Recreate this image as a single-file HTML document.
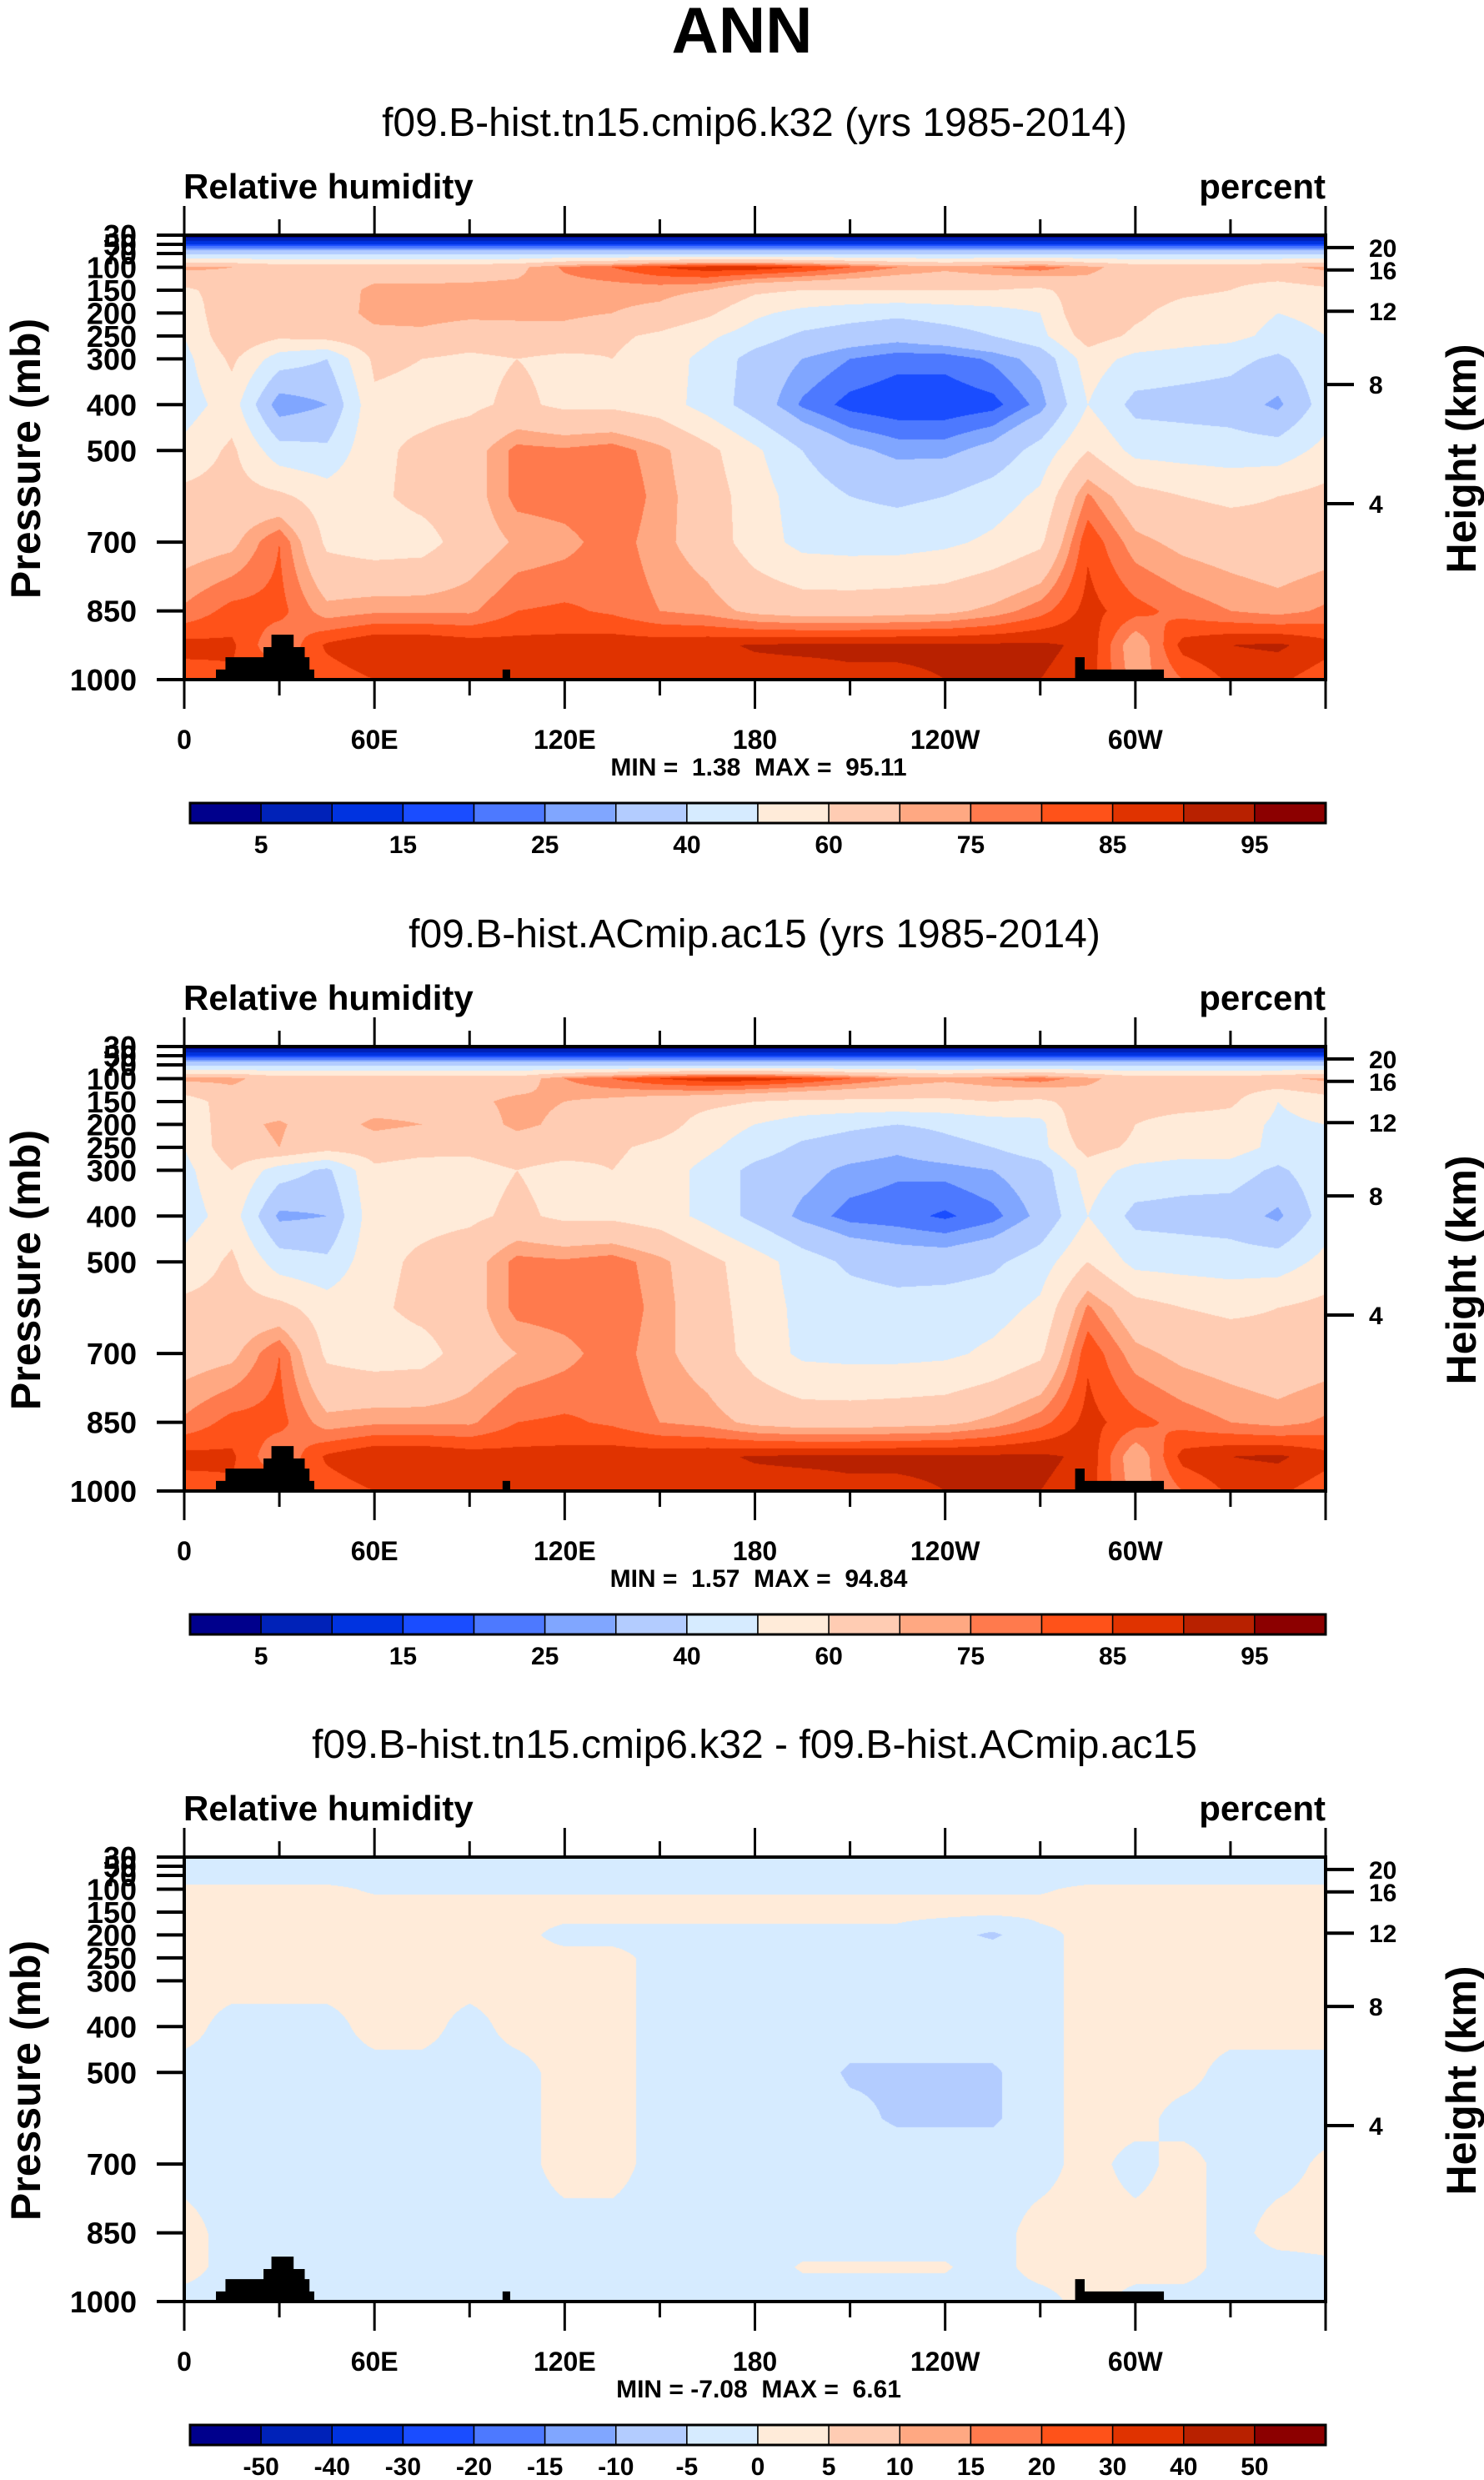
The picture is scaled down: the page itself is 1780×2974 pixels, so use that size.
<!DOCTYPE html>
<html><head><meta charset="utf-8">
<style>
html,body{margin:0;padding:0;background:#fff;}
#root{position:relative;width:1780px;height:2974px;overflow:hidden;font-family:"Liberation Sans",sans-serif;}
canvas{position:absolute;}
svg{position:absolute;left:0;top:0;}
</style></head>
<body>
<div id="root">
<canvas id="c0" width="1369" height="533" style="left:221px;top:282px"></canvas>
<canvas id="c1" width="1369" height="533" style="left:221px;top:1255px"></canvas>
<canvas id="c2" width="1369" height="533" style="left:221px;top:2227px"></canvas>
<svg id="svg" width="1780" height="2974" xmlns="http://www.w3.org/2000/svg">
<text x="890" y="63" text-anchor="middle" font-size="78" font-weight="bold" font-family="Liberation Sans, sans-serif">ANN</text>
</svg>
</div>
<script>
// ---------- data ----------
const lons = [0,15,30,45,60,75,90,105,120,135,150,165,180,195,210,225,240,255,270,285,300,315,330,345,360];
const levels = [30,50,70,100,150,200,250,300,400,500,600,700,850,925,1000];
const rh1 = [
[2,2,2,2,2,2,2,2,2,2,2,2,2,2,2,2,2,2,2,2,2,2,2,2,2],
[15,15,15,15,15,15,15,15,15,15,15,15,15,15,15,15,15,15,15,15,15,15,15,15,15],
[38,38,38,38,38,38,38,38,38,38,38,38,38,38,38,38,38,38,38,38,38,38,38,38,38],
[72,70,66,65,65,65,66,68,76,80,85,88,88,85,80,75,72,75,78,72,66,65,65,68,72],
[58,65,65,65,72,72,72,72,72,72,72,70,62,60,60,60,60,60,58,66,65,62,60,55,58],
[52,70,66,66,72,73,72,72,72,70,68,62,52,47,44,42,44,46,50,70,62,56,55,50,52],
[50,68,62,64,68,68,65,66,66,62,58,52,45,38,35,33,36,40,47,65,58,55,53,47,50],
[47,62,45,40,62,60,58,60,58,60,55,47,36,30,25,22,22,26,33,55,47,45,43,38,47],
[45,55,25,30,58,57,58,62,58,58,55,46,35,24,18,16,16,18,27,50,37,36,35,28,45],
[53,62,44,42,58,62,66,77,76,78,72,63,52,40,32,28,28,33,44,60,47,46,45,45,53],
[63,64,62,55,58,63,66,77,78,80,73,65,55,45,40,38,40,45,52,76,64,60,58,60,63],
[66,68,80,58,55,56,65,71,73,78,72,66,55,47,46,46,48,52,58,84,72,68,66,64,66],
[76,82,82,72,74,74,74,80,81,79,75,73,68,66,66,67,68,72,78,87,82,78,75,73,76],
[87,86,75,86,90,90,88,87,87,88,88,89,90.5,91,91,91,91,91,91,89,70,87,90,91,87],
[82,84,84,82,85,86,86,85,86,86,87,87,88,88,89,89,90,90,90,88,72,80,86,86,82]
];
const rh2 = [
[2,2,2,2,2,2,2,2,2,2,2,2,2,2,2,2,2,2,2,2,2,2,2,2,2],
[15,15,15,15,15,15,15,15,15,15,15,15,15,15,15,15,15,15,15,15,15,15,15,15,15],
[38,38,38,38,38,38,38,38,38,38,38,38,38,38,38,38,38,38,38,38,38,38,38,38,38],
[72,72,65,65,65,65,65,65,75,80,85,88,88,85,80,75,72,75,78,72,65,65,65,68,72],
[55,65,65,65,65,66,68,72,70,68,65,63,60,58,58,58,58,60,58,65,65,65,62,50,55],
[50,68,71,65,72,70,65,72,68,70,65,55,50,45,42,40,42,45,47,70,60,55,55,48,50],
[50,67,70,64,65,63,62,65,64,62,57,52,45,38,35,32,37,40,47,64,58,55,55,47,50],
[47,60,45,38,58,56,57,60,57,60,55,47,37,33,28,26,27,30,35,55,47,45,45,38,47],
[45,55,28,30,57,57,58,62,58,58,55,47,37,28,23,22,19,23,32,50,37,36,35,28,45],
[53,62,45,42,57,62,66,77,76,78,72,63,55,45,38,35,35,38,45,60,47,46,45,45,53],
[63,64,63,55,58,63,66,77,78,79,73,64,56,47,45,44,45,46,52,76,64,60,58,60,63],
[66,68,80,58,55,56,65,70,73,78,72,66,56,48,47,47,48,52,58,84,72,68,66,64,66],
[76,82,82,72,74,74,74,80,81,79,75,73,68,66,66,67,68,72,78,87,82,78,75,73,76],
[87,86,75,86,90,90,88,87,87,88,88,89,90.5,91,91,91,91,91,91,89,70,87,90,91,87],
[82,84,84,82,85,86,86,85,86,86,87,87,88,88,89,89,90,90,90,88,72,80,86,86,82]
];
const rhDiff = [
[-1,-1,-1,-1,-1,-1,-1,-1,-1,-1,-1,-1,-1,-1,-1,-1,-1,-1,-1,-1,-1,-1,-1,-1,-1],
[-1,-1,-1,-1,-1,-1,-1,-1,-1,-1,-1,-1,-1,-1,-1,-1,-1,-1,-1,-1,-1,-1,-1,-1,-1],
[-1,-1,-1,-1,-1,-1,-1,-1,-1,-1,-1,-1,-1,-1,-1,-1,-1,-1,-1,-1,-1,-1,-1,-1,-1],
[0.5,0.5,0.5,0.5,-0.3,-0.3,-0.3,-0.3,-0.3,-0.3,-0.3,-0.3,-0.3,-0.3,-0.3,-0.3,-0.3,-0.3,-0.3,0.5,0.5,0.5,0.5,0.5,0.5],
[1,1,1,1,1,1,1,1,1,1,1,1,1,1,1,1,1,1,1,1,1,1,1,1,1],
[1,1,1,1,1,1,1,1,-1,-1,-1,-1,-1,-1,-1,-1,-3,-6,-1,1,1,1,1,1,1],
[1,1,1,1,1,1,1,1,1,1,-1,-1,-1,-1,-1,-1,-1,-1,-1,1,1,1,1,1,1],
[1,1,1,1,1,1,1,1,1,1,-1,-1,-1,-1,-1,-1,-1,-1,-1,1,1,1,1,1,1],
[1,-1,-1,-1,1,1,-1,1,1,1,-1,-1,-1,-1,-1,-1,-1,-1,-1,1,1,1,1,1,1],
[-1,-1,-1,-1,-1,-1,-1,-1,1,1,-1,-1,-1,-1,-6,-6,-6,-6,-1,1,1,1,-1,-1,-1],
[-1,-1,-1,-1,-1,-1,-1,-1,1,1,-1,-1,-1,-1,-3,-6,-6,-6,-1,1,1,-1,-1,-1,-1],
[-1,-1,-1,-1,-1,-1,-1,-1,1,1,-1,-1,-1,-1,-1,-1,-1,-1,-1,1,-1,1,-1,-1,0.5],
[1,-1,-1,-1,-1,-1,-1,-1,-1,-1,-1,-1,-1,-1,-1,-1,-1,-1,1,1,1,1,-1,1,1],
[1,-1,-1,-1,-1,-1,-1,-1,-1,-1,-1,-1,-1,0.2,0.2,0.2,0.2,-1,1,1,1,1,-1,-1,-0.5],
[-1,-1,-1,-1,-1,-1,-1,-1,-1,-1,-1,-1,-1,-1,-1,-1,-1,-1,-1,1,-1,-1,-1,-1,-1]
];
const rhLevels = [5,10,15,20,25,30,40,50,60,70,75,80,85,90,95];
const rhLabels = ["5","15","25","40","60","75","85","95"];
const diffLevels = [-50,-40,-30,-20,-15,-10,-5,0,5,10,15,20,30,40,50];
const diffLabels = ["-50","-40","-30","-20","-15","-10","-5","0","5","10","15","20","30","40","50"];
const palette = ['#00008C','#0022B8','#0033E0','#1A4DFF','#4D79FF','#80A6FF','#B3CCFF','#D6EBFF','#FFEBD9','#FFCCB3','#FFA882','#FF7A4D','#FF5219','#E03300','#B82100','#8C0000'];
const topoLon = [10,13,25,27.5,34.5,38,39.5,41, 100.4,102.8, 281,284,309];
const topoP =   [978,951,929,902,929,951,978,1000, 978,1000, 951,978,1000];
const pTicks = [30,50,70,100,150,200,250,300,400,500,700,850,1000];
const xTickLon = [0,60,120,180,240,300];
const xTickLab = ["0","60E","120E","180","120W","60W"];
const hLabels = ["20","16","12","8","4"];
const hPress = [57,106,196,356,616];
const titles = ["f09.B-hist.tn15.cmip6.k32 (yrs 1985-2014)","f09.B-hist.ACmip.ac15 (yrs 1985-2014)","f09.B-hist.tn15.cmip6.k32 - f09.B-hist.ACmip.ac15"];
const minmax = ["MIN =  1.38  MAX =  95.11","MIN =  1.57  MAX =  94.84","MIN = -7.08  MAX =  6.61"];

// ---------- layout ----------
const L=221, R=1590, W=R-L, H=533;
const offs=[0,973,1945];
function xS(lon){return L+lon/360*W;}
function yS(p,k){return 282+offs[k]+(p-30)/970*H;}

function hex(c){return [parseInt(c.substr(1,2),16),parseInt(c.substr(3,2),16),parseInt(c.substr(5,2),16)];}
const pal=palette.map(hex);

function drawField(id,grid,lv){
  const cv=document.getElementById(id),ctx=cv.getContext('2d');
  const img=ctx.createImageData(W,H),d=img.data;
  for(let y=0;y<H;y++){
    const p=30+(y+0.5)/H*970;
    let k=0;while(k<levels.length-2&&levels[k+1]<p)k++;
    const fy=Math.min(1,Math.max(0,(p-levels[k])/(levels[k+1]-levels[k])));
    const r0=grid[k],r1=grid[k+1];
    for(let x=0;x<W;x++){
      const lon=(x+0.5)/W*360;
      let j=Math.min(lons.length-2,Math.floor(lon/15));
      const fx=(lon-lons[j])/15;
      const a=r0[j]*(1-fx)+r0[j+1]*fx,b=r1[j]*(1-fx)+r1[j+1]*fx;
      const v=a*(1-fy)+b*fy;
      let c=0;while(c<lv.length&&v>=lv[c])c++;
      const col=pal[c],i=(y*W+x)*4;
      d[i]=col[0];d[i+1]=col[1];d[i+2]=col[2];d[i+3]=255;
    }
  }
  ctx.putImageData(img,0,0);
}
drawField('c0',rh1,rhLevels);
drawField('c1',rh2,rhLevels);
drawField('c2',rhDiff,diffLevels);

const svg=document.getElementById('svg');
const NS='http://www.w3.org/2000/svg';
function el(tag,attrs,txt){const e=document.createElementNS(NS,tag);for(const k in attrs)e.setAttribute(k,attrs[k]);if(txt!==undefined)e.textContent=txt;svg.appendChild(e);return e;}
const FF='Liberation Sans, sans-serif';

for(let k=0;k<3;k++){
  const top=282+offs[k],bot=top+H,o=offs[k];
  let t=el('text',{x:905,y:163+o,'text-anchor':'middle','font-size':48,'font-family':FF},titles[k]);
  
  
  t=el('text',{x:220,y:238+o,'font-size':42,'font-weight':'bold','font-family':FF},'Relative humidity');
  
  
  t=el('text',{x:1590,y:238+o,'text-anchor':'end','font-size':42,'font-weight':'bold','font-family':FF},'percent');
  
  
  // topography (step polygons)
  const segs=[[0,8],[8,10],[10,13]];
  let d='';
  for(const [s,e] of segs){
    d+='M'+xS(topoLon[s])+' '+bot;
    for(let i=s;i<e-1;i++){
      const y=yS(topoP[i],k);
      d+=' L'+xS(topoLon[i])+' '+y+' L'+xS(topoLon[i+1])+' '+y;
    }
    d+=' L'+xS(topoLon[e-1])+' '+bot+' Z ';
  }
  const tp=el('path',{d:d,fill:'#000'});
  
  
  // frame
  const fr=el('rect',{x:L,y:top,width:W,height:H,fill:'none',stroke:'#000','stroke-width':4});
  
  
  // x ticks
  for(let lon=0;lon<=360;lon+=30){
    const x=xS(lon),maj=lon%60===0,len=maj?35:19;
    el('line',{x1:x,y1:bot,x2:x,y2:bot+len,stroke:'#000','stroke-width':3});
    el('line',{x1:x,y1:top,x2:x,y2:top-len,stroke:'#000','stroke-width':3});
  }
  for(let i=0;i<xTickLon.length;i++){
    t=el('text',{x:xS(xTickLon[i]),y:898+o,'text-anchor':'middle','font-size':32,'font-weight':'bold','font-family':FF},xTickLab[i]);
    
    
  }
  // y ticks
  for(const p of pTicks){
    const y=yS(p,k);
    el('line',{x1:L-33,y1:y,x2:L,y2:y,stroke:'#000','stroke-width':4});
    t=el('text',{x:164,y:y+13,'text-anchor':'end','font-size':36,'font-weight':'bold','font-family':FF},String(p));
    
    
  }
  for(let i=0;i<hLabels.length;i++){
    const y=yS(hPress[i],k);
    el('line',{x1:R,y1:y,x2:R+34,y2:y,stroke:'#000','stroke-width':4});
    t=el('text',{x:1642,y:y+11,'font-size':30,'font-weight':'bold','font-family':FF},hLabels[i]);
    
    
  }
  t=el('text',{x:0,y:0,'text-anchor':'middle','font-size':50,'font-weight':'bold','font-family':FF,transform:'translate(48,'+(550+o)+') rotate(-90)'},'Pressure (mb)');
  
  
  t=el('text',{x:0,y:0,'text-anchor':'middle','font-size':50,'font-weight':'bold','font-family':FF,transform:'translate(1770,'+(550+o)+') rotate(-90)'},'Height (km)');
  
  
  t=el('text',{x:910,y:930+o,'text-anchor':'middle','font-size':30,'font-weight':'bold','font-family':FF},minmax[k]);
  t.style.whiteSpace='pre';
  
  
  // colorbar
  const cbL=228,cbR=1590,cbT=963+o,cbH=24,bw=(cbR-cbL)/16;
  for(let i=0;i<16;i++){
    const r=el('rect',{x:cbL+i*bw,y:cbT,width:bw,height:cbH,fill:palette[i],stroke:'#000','stroke-width':1.5});
    
    
  }
  el('rect',{x:cbL,y:cbT,width:cbR-cbL,height:cbH,fill:'none',stroke:'#000','stroke-width':3});
  const lv=k<2?rhLevels:diffLevels, labs=k<2?rhLabels:diffLabels;
  for(let i=0;i<labs.length;i++){
    const li=lv.indexOf(Number(labs[i]));
    t=el('text',{x:cbL+(li+1)*bw,y:1023+o,'text-anchor':'middle','font-size':30,'font-weight':'bold','font-family':FF},labs[i]);
    
    
  }
}
</script>
</body></html>
